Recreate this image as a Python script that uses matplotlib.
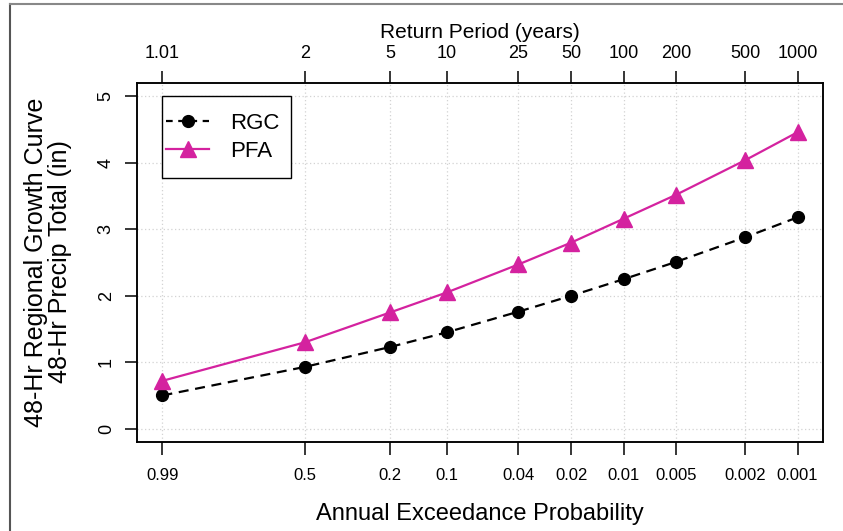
import numpy as np
import matplotlib
matplotlib.use("Agg")
import matplotlib.pyplot as plt
from matplotlib.lines import Line2D
from matplotlib.patches import Rectangle

plt.rcParams["font.family"] = ["Liberation Sans", "DejaVu Sans"]

# annual exceedance probability and matching return periods
aep = [0.99, 0.5, 0.2, 0.1, 0.04, 0.02, 0.01, 0.005, 0.002, 0.001]
aep_labels = ["0.99", "0.5", "0.2", "0.1", "0.04", "0.02", "0.01", "0.005", "0.002", "0.001"]
rp_labels = ["1.01", "2", "5", "10", "25", "50", "100", "200", "500", "1000"]

# 48-hr precipitation totals (in)
rgc = [0.50, 0.93, 1.23, 1.45, 1.76, 2.00, 2.25, 2.51, 2.88, 3.18]
pfa = [0.72, 1.30, 1.75, 2.05, 2.47, 2.80, 3.16, 3.52, 4.04, 4.46]

MAGENTA = "#d4229f"


def gumbel(p):
    """Gumbel reduced variate for an exceedance probability."""
    p = np.asarray(p, dtype=float)
    return -np.log(-np.log(1.0 - p))


W, H = 843, 531
L, R, T, B = 137, 823, 83, 442  # plot box in pixels


def ax_xy(px, py):
    """Pixel position -> axes fraction."""
    return (px - L) / (R - L), (B - py) / (B - T)


fig = plt.figure(figsize=(W / 100, H / 100), dpi=100)
fig.patch.set_facecolor("white")
ax = fig.add_axes([L / W, 1 - B / H, (R - L) / W, (B - T) / H])

xs = gumbel(aep)
span = xs[-1] - xs[0]
ax.set_xlim(xs[0] - 0.04 * span, xs[-1] + 0.04 * span)
ax.set_ylim(-0.2, 5.2)

# dotted grid at every tick
for x in xs:
    ax.axvline(x, color="#d3d3d3", lw=0.9, ls=(0, (1, 2)), zorder=0)
for y in range(6):
    ax.axhline(y, color="#d3d3d3", lw=0.9, ls=(0, (1, 2)), zorder=0)

ax.plot(xs, rgc, color="black", lw=1.6, ls=(0, (4.5, 3)), marker="o",
        ms=8.5, zorder=3)
ax.plot(xs, pfa, color=MAGENTA, lw=1.6, marker="^", ms=11, zorder=3)

ax.set_xticks(xs)
ax.set_xticklabels(aep_labels)
ax.set_yticks(range(6))
ax.tick_params(axis="x", length=9, width=1.1, labelsize=12, pad=10)
ax.tick_params(axis="y", length=9, width=1.1, labelsize=13, pad=7,
               labelrotation=90)
for lab in ax.get_yticklabels():
    lab.set_va("center")
for s in ax.spines.values():
    s.set_linewidth(1.1)

ax.set_xlabel("Annual Exceedance Probability", fontsize=17, labelpad=14)
fig.text(48 / W, 1 - 262 / H,
         "48-Hr Regional Growth Curve\n48-Hr Precip Total (in)",
         fontsize=18, rotation=90, ha="center", va="center",
         linespacing=1.05)

# return period axis along the top
top = ax.twiny()
top.set_xlim(ax.get_xlim())
top.set_xticks(xs)
top.set_xticklabels(rp_labels)
top.tick_params(axis="x", length=9, width=1.1, labelsize=13, pad=6)
top.set_xlabel("Return Period (years)", fontsize=15, labelpad=5)
for s in top.spines.values():
    s.set_linewidth(1.1)

# legend with a hand-placed frame
x0, y0 = ax_xy(162, 178)
x1, y1 = ax_xy(291, 96)
ax.add_patch(Rectangle((x0, y0), x1 - x0, y1 - y0, transform=ax.transAxes,
                       facecolor="white", edgecolor="black", lw=1.0,
                       zorder=4))
handles = [
    Line2D([], [], color="black", lw=1.6, ls=(0, (3, 2.5)), marker="o", ms=8.5),
    Line2D([], [], color=MAGENTA, lw=1.6, marker="^", ms=11),
]
leg = ax.legend(handles, ["RGC", "PFA"], loc="upper left",
                bbox_to_anchor=ax_xy(166, 113), borderaxespad=0,
                borderpad=0, frameon=False, fontsize=16, handlelength=1.95,
                handletextpad=0.95, labelspacing=0.3)
leg.set_zorder(5)

# page frame on the left and top
fig.add_artist(Line2D([10 / W, 10 / W], [0, 1 - 4 / H], color="#555555",
                      lw=1.5, transform=fig.transFigure))
fig.add_artist(Line2D([10 / W, 1], [1 - 4 / H, 1 - 4 / H], color="#888888",
                      lw=1.5, transform=fig.transFigure))

fig.savefig("out.png", dpi=100, facecolor="white")
